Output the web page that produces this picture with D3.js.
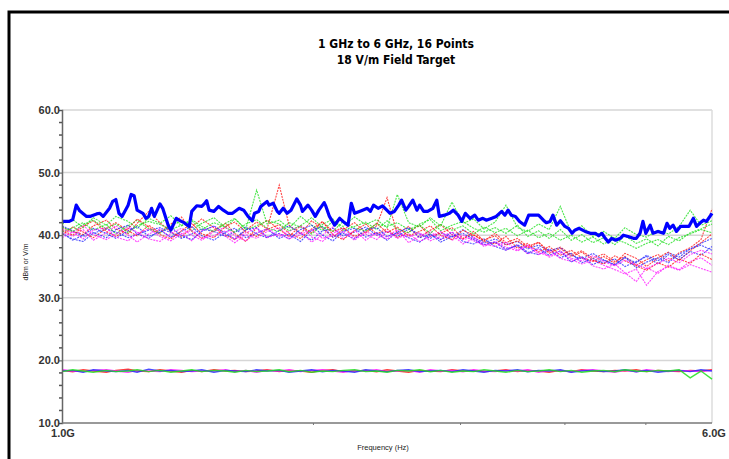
<!DOCTYPE html>
<html>
<head>
<meta charset="utf-8">
<script src="https://cdn.jsdelivr.net/npm/d3@7"></script>
<style>
  body { margin: 0; background: #fff; }
  svg { display: block; }
</style>
</head>
<body>
<div id="chart"></div>
<script>
// titulo e eixos
var titulo1 = "1 GHz to 6 GHz, 16 Points";
var titulo2 = "18 V/m Field Target";
var yTicks = [10, 20, 30, 40, 50, 60];
var yGrid = [20, 30, 40, 50, 60];
var xMinorTicks = [2, 3, 4, 5];

// grade de frequencia (GHz) das curvas finas
var freq = [1.00,1.03,1.06,1.09,1.13,1.16,1.20,1.23,1.27,1.31,1.35,1.39,1.43,1.47,1.52,1.57,1.61,1.66,1.71,1.76,1.82,1.87,1.93,1.99,2.05,2.11,2.17,2.24,2.31,2.38,2.45,2.52,2.60,2.68,2.76,2.84,2.93,3.02,3.11,3.20,3.30,3.40,3.51,3.61,3.72,3.83,3.95,4.07,4.19,4.32,4.45,4.59,4.72,4.87,5.01,5.17,5.32,5.48,5.65,5.82,6.00];

// curvas dos 16 pontos (campo medido)
var r1 = [41.2,40.6,40.1,41.5,42.4,41.0,40.2,41.9,43.8,42.0,40.5,39.7,41.3,42.6,41.2,40.0,39.3,40.8,42.1,41.0,48.0,41.6,40.2,42.3,41.1,39.7,40.9,42.0,40.4,41.5,46.0,40.2,41.4,39.6,40.8,41.7,40.1,39.4,40.6,39.1,40.3,38.8,39.5,38.2,38.9,37.4,38.1,36.9,37.5,36.3,37.0,35.8,36.6,35.2,36.1,36.9,35.9,37.2,38.0,39.3,44.2];
var g1 = [41.8,42.5,41.2,42.8,41.6,43.0,42.2,41.1,42.7,41.9,43.1,41.5,42.3,40.9,42.0,41.3,42.6,41.0,47.2,41.8,42.4,41.1,43.0,41.6,40.8,42.2,41.4,42.9,41.7,42.5,41.2,46.5,42.0,41.3,42.8,41.5,45.3,41.9,42.6,41.0,42.1,44.8,41.2,40.6,41.8,40.9,44.6,40.4,41.5,39.8,40.6,39.5,41.2,40.1,39.7,40.8,40.2,41.4,44.0,41.6,42.3];
var b1 = [40.2,39.4,39.0,40.3,41.0,40.5,39.6,40.1,40.8,41.2,40.4,39.5,40.2,41.0,40.6,39.8,40.5,41.3,40.2,39.6,40.8,41.5,40.3,39.2,40.7,41.1,39.9,40.5,41.3,40.0,40.6,39.8,41.0,40.2,39.5,40.4,39.7,40.9,39.6,38.8,39.4,38.5,39.0,37.8,38.4,37.5,38.0,36.8,36.2,37.1,36.0,35.3,36.4,35.6,36.8,35.9,37.2,36.5,37.8,38.4,37.6];
var m1 = [40.6,39.8,40.9,39.2,40.4,41.5,40.0,38.9,40.2,41.0,39.6,40.3,39.1,40.7,41.4,39.8,38.8,40.1,39.5,40.6,41.2,39.7,40.5,38.9,40.0,41.3,39.4,40.8,39.2,40.4,39.7,40.9,38.8,39.9,40.6,39.3,40.1,38.6,39.5,38.2,38.9,37.6,38.4,37.0,37.8,36.5,37.2,36.1,35.4,36.0,35.2,34.5,33.8,34.6,32.0,34.2,35.0,34.4,35.3,34.7,34.1];
var r2 = [40.0,41.3,40.5,39.6,41.1,42.0,40.7,39.9,41.6,40.4,41.8,42.9,40.6,39.5,40.8,41.9,40.3,39.0,41.2,42.4,40.9,39.8,41.5,40.4,42.2,40.1,39.3,40.7,41.8,40.2,41.0,39.6,40.5,41.6,39.8,40.3,41.2,39.5,40.1,39.0,38.6,39.8,37.9,38.7,37.3,38.2,36.8,37.6,36.4,35.8,36.6,35.5,37.1,36.3,35.0,36.4,37.3,36.0,37.5,38.8,40.2];
var g2 = [40.5,41.2,42.0,40.8,41.7,40.2,41.5,42.4,41.0,40.3,41.6,42.2,40.7,41.9,42.8,41.2,40.5,41.8,42.5,41.1,40.6,42.0,41.3,40.2,41.7,42.6,40.8,41.4,42.1,40.9,42.3,41.0,40.4,41.8,42.5,40.7,41.6,42.2,41.1,40.5,41.2,40.3,41.6,39.8,40.7,39.5,40.9,39.2,40.1,38.8,39.6,38.5,39.9,38.7,39.4,38.3,39.8,39.1,40.4,41.0,41.8];
var b2 = [41.5,40.7,39.8,40.4,39.6,40.9,41.6,40.2,39.5,40.8,39.7,40.6,41.4,39.9,39.2,40.5,41.1,39.6,40.3,41.0,39.5,40.2,39.0,40.8,41.4,39.7,40.3,39.4,40.9,41.2,39.8,40.4,39.6,38.9,40.1,39.3,40.5,39.0,38.6,39.4,38.2,37.6,38.5,37.3,36.9,37.8,36.4,37.1,35.6,36.3,35.5,36.2,35.0,35.8,36.6,35.4,36.9,36.1,37.4,36.8,38.2];
var m2 = [41.0,40.4,41.6,40.1,39.3,40.2,41.2,40.5,39.4,39.0,40.3,41.1,40.0,39.2,40.6,41.3,39.9,39.1,40.4,41.0,39.8,40.6,41.5,39.7,39.0,40.3,41.1,39.6,40.2,39.3,40.7,39.5,40.2,39.0,39.8,40.6,39.2,40.0,39.1,38.4,39.0,38.1,37.5,38.3,36.9,37.6,36.3,35.8,36.5,35.1,34.6,35.4,34.0,32.6,34.8,33.9,35.2,34.5,35.8,36.4,35.2];
var r3 = [40.8,40.0,41.4,42.3,40.6,39.8,41.0,42.6,41.3,40.1,39.4,40.7,41.9,40.2,39.6,41.4,42.1,40.5,39.8,40.9,41.7,40.3,39.5,41.0,42.1,40.6,41.2,39.8,40.5,41.9,40.4,41.3,39.9,40.6,41.5,40.0,39.3,40.8,40.0,39.2,39.9,38.4,39.1,38.0,38.8,37.1,37.9,36.6,37.3,36.0,35.4,36.7,35.9,35.1,34.4,35.6,34.9,36.2,35.5,37.0,36.1];
var g3 = [41.3,40.6,41.7,42.4,41.0,41.8,40.4,41.5,42.2,41.7,40.9,41.6,42.5,41.4,40.6,41.9,42.7,40.9,41.5,42.3,41.8,40.7,41.5,42.8,41.3,40.6,42.2,41.1,40.7,41.8,41.4,42.0,40.9,41.6,40.3,41.7,40.8,41.5,40.2,41.3,40.4,41.1,39.9,40.8,39.6,40.3,39.2,40.0,38.9,39.7,38.6,39.4,38.8,37.9,38.7,39.3,38.5,39.6,40.2,40.9,40.4];
var b3 = [40.4,39.2,40.0,41.1,40.3,39.5,40.7,41.4,39.8,40.5,41.3,39.9,39.3,40.6,41.5,40.2,39.4,40.9,41.2,39.7,40.3,39.4,40.9,41.6,40.0,39.1,40.6,41.1,39.7,40.4,39.2,40.5,41.2,39.6,40.2,38.9,39.8,40.3,39.3,38.5,38.9,37.8,38.3,37.1,38.0,36.8,37.5,35.7,36.6,35.3,36.1,35.2,36.5,34.8,35.7,36.4,35.6,37.0,37.8,38.7,39.5];
var m3 = [39.6,40.5,39.4,40.8,41.2,39.7,39.1,40.3,41.0,39.8,39.1,40.2,40.8,39.5,39.9,40.7,39.3,40.4,41.1,39.6,40.2,39.4,40.1,40.9,39.5,39.9,40.6,39.2,40.5,40.0,39.4,40.3,39.7,40.4,39.1,39.8,40.5,39.3,39.7,38.6,38.2,38.9,37.6,38.4,37.2,36.7,37.5,36.3,35.9,36.7,35.8,35.1,36.0,35.3,34.7,35.5,36.3,35.6,36.9,37.6,37.0];

// curvas do alvo de campo (18 V/m)
var lr = [18.4,18.2,18.5,18.3,18.1,18.4,18.6,18.3,18.2,18.5,18.3,18.1,18.4,18.2,18.5,18.3,18.4,18.2,18.3,18.5,18.2,18.4,18.3,18.1,18.4,18.5,18.2,18.3,18.4,18.2,18.5,18.3,18.1,18.4,18.3,18.2,18.5,18.3,18.4,18.2,18.3,18.5,18.2,18.4,18.3,18.1,18.4,18.2,18.5,18.3,18.2,18.4,18.3,18.5,18.2,18.4,18.3,18.2,18.4,18.3,18.5];
var lg = [18.2,18.5,18.3,18.1,18.4,18.2,18.3,18.5,18.2,18.4,18.1,18.3,18.5,18.2,18.4,18.3,18.1,18.4,18.2,18.3,18.5,18.2,18.4,18.1,18.3,18.2,18.4,18.5,18.2,18.3,18.1,18.4,18.3,18.5,18.2,18.4,18.1,18.3,18.2,18.5,18.3,18.1,18.4,18.2,18.3,18.5,18.2,18.4,18.1,18.3,18.4,18.2,18.5,18.3,18.2,18.4,18.3,18.5,17.2,18.3,17.0];
var lb = [18.3,18.4,18.1,18.5,18.3,18.2,18.4,18.1,18.6,18.3,18.4,18.2,18.3,18.5,18.1,18.4,18.3,18.2,18.5,18.3,18.4,18.1,18.3,18.5,18.2,18.4,18.3,18.1,18.5,18.3,18.2,18.4,18.5,18.2,18.3,18.4,18.2,18.5,18.3,18.1,18.4,18.3,18.5,18.2,18.4,18.3,18.5,18.1,18.3,18.4,18.2,18.3,18.5,18.2,18.4,18.1,18.3,18.4,18.2,18.5,18.3];
var lm = [18.5,18.3,18.2,18.4,18.5,18.3,18.1,18.4,18.3,18.2,18.5,18.4,18.2,18.3,18.3,18.5,18.2,18.4,18.1,18.4,18.3,18.5,18.2,18.4,18.5,18.3,18.1,18.4,18.3,18.5,18.2,18.3,18.4,18.1,18.5,18.3,18.4,18.2,18.5,18.3,18.2,18.4,18.3,18.5,18.1,18.4,18.3,18.2,18.4,18.5,18.3,18.1,18.4,18.2,18.5,18.3,18.2,18.4,18.3,18.2,18.4];

// curva grossa (maximo)
var maxFreq = [1.00,1.02,1.03,1.04,1.05,1.07,1.08,1.10,1.11,1.12,1.14,1.15,1.16,1.17,1.18,1.20,1.21,1.22,1.23,1.25,1.26,1.27,1.28,1.29,1.31,1.32,1.34,1.35,1.37,1.38,1.40,1.42,1.43,1.45,1.47,1.48,1.49,1.50,1.52,1.54,1.56,1.58,1.60,1.63,1.65,1.67,1.69,1.70,1.72,1.73,1.76,1.77,1.79,1.81,1.82,1.84,1.86,1.88,1.91,1.93,1.94,1.97,1.99,2.01,2.03,2.06,2.07,2.09,2.12,2.15,2.17,2.20,2.22,2.24,2.27,2.29,2.32,2.34,2.36,2.39,2.42,2.47,2.50,2.53,2.55,2.58,2.60,2.63,2.66,2.68,2.71,2.74,2.78,2.81,2.83,2.87,2.91,2.94,2.98,3.01,3.04,3.08,3.12,3.15,3.19,3.22,3.27,3.31,3.36,3.39,3.42,3.45,3.49,3.53,3.58,3.62,3.67,3.72,3.77,3.80,3.84,3.87,3.91,3.95,4.00,4.04,4.08,4.11,4.16,4.23,4.29,4.35,4.39,4.43,4.47,4.51,4.55,4.60,4.66,4.70,4.76,4.83,4.87,4.92,4.96,5.00,5.06,5.10,5.17,5.25,5.30,5.34,5.39,5.44,5.50,5.57,5.63,5.70,5.75,5.80,5.86,5.91,5.98,6.00];
var maxVal = [42.2,42.2,42.5,44.8,43.9,43.0,43.0,43.4,43.5,43.0,44.3,45.4,45.7,43.5,43.0,44.8,46.5,46.3,44.0,43.5,42.7,43.0,44.3,43.0,45.0,44.3,41.6,40.8,42.7,42.4,42.0,41.4,43.8,44.7,44.6,45.0,45.5,44.0,43.8,44.6,44.0,43.5,43.5,44.3,44.0,43.0,42.3,43.5,43.8,44.6,45.4,44.8,45.1,43.8,43.5,44.3,43.5,44.0,45.8,44.8,43.8,44.8,44.0,43.0,44.0,45.2,44.6,43.0,41.6,42.7,42.2,41.6,45.1,43.5,43.8,44.0,44.3,43.8,44.8,44.3,44.7,43.5,43.8,44.8,45.6,44.0,44.6,45.6,44.0,44.8,43.8,43.8,44.3,45.6,43.0,43.2,43.5,44.0,43.2,42.2,43.5,42.7,43.2,42.4,42.7,42.4,42.7,43.0,43.8,43.2,44.0,43.2,43.0,42.2,41.6,43.2,43.2,43.2,42.4,42.0,42.2,43.2,41.6,42.3,41.4,41.1,40.3,40.8,41.1,40.6,40.3,40.3,39.9,40.3,39.5,38.9,39.5,39.2,39.5,40.0,39.8,39.5,39.5,40.3,42.2,40.3,41.6,40.3,40.6,40.3,41.9,41.1,41.6,40.6,41.4,41.4,41.4,42.7,41.4,41.9,42.4,42.2,43.2,43.5];

// dimensoes do grafico
var W = 729, H = 459;
var margin = {top: 110, right: 17, bottom: 36, left: 62};
var width = W - margin.left - margin.right,
    height = H - margin.top - margin.bottom;

var svg = d3.select("#chart").append("svg")
  .attr("width", W).attr("height", H);

// moldura preta
svg.append("rect")
  .attr("x", 9).attr("y", 12).attr("width", W + 10).attr("height", H + 10)
  .attr("fill", "none").attr("stroke", "#000").attr("stroke-width", 3);

var fonteTitulo = "'DejaVu Sans Condensed', 'DejaVu Sans', sans-serif";
svg.append("text").attr("x", 396).attr("y", 48)
  .attr("text-anchor", "middle")
  .style("font-family", fonteTitulo).style("font-stretch", "condensed")
  .style("font-weight", "bold").style("font-size", "12px")
  .text(titulo1);
svg.append("text").attr("x", 396).attr("y", 64)
  .attr("text-anchor", "middle")
  .style("font-family", fonteTitulo).style("font-stretch", "condensed")
  .style("font-weight", "bold").style("font-size", "12px")
  .text(titulo2);

var g = svg.append("g")
  .attr("transform", "translate(" + margin.left + "," + margin.top + ")");

// escalas
var x = d3.scaleLog().domain([1, 6]).range([0, width]);
var y = d3.scaleLinear().domain([10, 60]).range([height, 0]);

// grade horizontal
g.selectAll(".grid").data(yGrid).enter().append("line")
  .attr("x1", 0).attr("x2", width)
  .attr("y1", function(d) { return y(d); })
  .attr("y2", function(d) { return y(d); })
  .attr("stroke", "#d6d6d6").attr("stroke-width", 1.5);

// borda direita
g.append("line").attr("x1", width).attr("x2", width)
  .attr("y1", 0).attr("y2", height)
  .attr("stroke", "#dcdcdc").attr("stroke-width", 1.5);

var line = d3.line()
  .x(function(d) { return x(d[0]); })
  .y(function(d) { return y(d[1]); });

function pares(fs, vs) {
  var out = [];
  for (var i = 0; i < vs.length && i < fs.length; i++) out.push([fs[i], vs[i]]);
  return out;
}

var finas = [
  {v: r1, c: "#ff1a1a"}, {v: g1, c: "#1ee01e"}, {v: b1, c: "#2a2aff"}, {v: m1, c: "#ff1aff"},
  {v: r2, c: "#ff1a1a"}, {v: g2, c: "#1ee01e"}, {v: b2, c: "#2a2aff"}, {v: m2, c: "#ff1aff"},
  {v: r3, c: "#ff1a1a"}, {v: g3, c: "#1ee01e"}, {v: b3, c: "#2a2aff"}, {v: m3, c: "#ff1aff"}
];
var alvo = [
  {v: lr, c: "#ff1a1a"}, {v: lm, c: "#ff1aff"}, {v: lb, c: "#2a2aff"}, {v: lg, c: "#1ee01e"}
];

g.selectAll(".fina").data(finas).enter().append("path")
  .attr("d", function(d) { return line(pares(freq, d.v)); })
  .attr("fill", "none").attr("stroke", function(d) { return d.c; })
  .attr("stroke-width", 1.1).attr("stroke-dasharray", "2,1")
  .attr("opacity", 0.8);

g.selectAll(".alvo").data(alvo).enter().append("path")
  .attr("d", function(d) { return line(pares(freq, d.v)); })
  .attr("fill", "none").attr("stroke", function(d) { return d.c; })
  .attr("stroke-width", 1.4).attr("opacity", 0.85);

// curva maxima
g.append("path")
  .attr("d", line(pares(maxFreq, maxVal)))
  .attr("fill", "none").attr("stroke", "#0000ff")
  .attr("stroke-width", 3.2).attr("stroke-linejoin", "round");

// eixo Y
var yAxis = d3.axisLeft(y).tickValues(yTicks).tickSize(3)
  .tickFormat(function(d) { return d.toFixed(1); });
var ya = g.append("g").call(yAxis);
ya.select(".domain").attr("stroke", "#666").attr("stroke-width", 1.5);
ya.selectAll(".tick line").attr("stroke", "#555");
ya.selectAll(".tick text").attr("x", -2)
  .style("font-family", "'Liberation Sans', Arial, sans-serif")
  .style("font-weight", "bold").style("font-size", "11px").attr("fill", "#333");
// ticks menores
var minor = d3.range(12, 60, 2).filter(function(d) { return d % 10 != 0; });
g.selectAll(".minor").data(minor).enter().append("line")
  .attr("x1", -3).attr("x2", 0)
  .attr("y1", function(d) { return y(d); }).attr("y2", function(d) { return y(d); })
  .attr("stroke", "#555").attr("stroke-width", 1.5);

// eixo X
g.append("line").attr("x1", 0).attr("x2", width)
  .attr("y1", height).attr("y2", height)
  .attr("stroke", "#777").attr("stroke-width", 1.5);
g.selectAll(".xminor").data(xMinorTicks).enter().append("line")
  .attr("x1", function(d) { return x(d); }).attr("x2", function(d) { return x(d); })
  .attr("y1", height).attr("y2", height + 2)
  .attr("stroke", "#777");
g.append("text").attr("x", x(1) + 1).attr("y", height + 14)
  .attr("text-anchor", "middle")
  .style("font-family", "'Liberation Sans', Arial, sans-serif")
  .style("font-weight", "bold").style("font-size", "11px").attr("fill", "#333")
  .text("1.0G");
g.append("text").attr("x", x(6) + 2).attr("y", height + 14)
  .attr("text-anchor", "middle")
  .style("font-family", "'Liberation Sans', Arial, sans-serif")
  .style("font-weight", "bold").style("font-size", "11px").attr("fill", "#333")
  .text("6.0G");

svg.append("text").attr("x", 383).attr("y", 450)
  .attr("text-anchor", "middle")
  .style("font-family", "'Liberation Sans', Arial, sans-serif")
  .style("font-size", "7.5px").attr("fill", "#222")
  .text("Frequency (Hz)");
svg.append("text")
  .attr("transform", "translate(28,262) rotate(-90)")
  .attr("text-anchor", "middle")
  .style("font-family", "'Liberation Sans', Arial, sans-serif")
  .style("font-size", "7px").attr("fill", "#222")
  .text("dBm or V/m");
</script>
</body>
</html>
